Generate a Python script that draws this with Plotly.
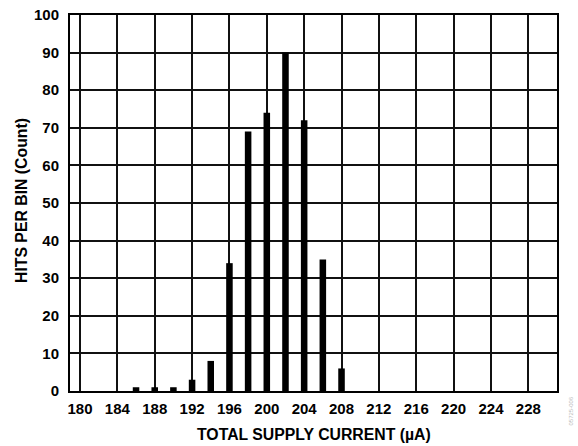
import plotly.graph_objects as go

# Histogram of total supply current
current_bins = [186, 188, 190, 192, 194, 196, 198, 200, 202, 204, 206, 208]
hits = [1, 1, 1, 3, 8, 34, 69, 74, 90, 72, 35, 6]

x_ticks = list(range(180, 229, 4))
y_ticks = list(range(0, 101, 10))

FONT = "Liberation Sans, Arial, Helvetica, sans-serif"
TICK_TEXT = dict(family=FONT, size=15, color="black", weight="bold")
TITLE_TEXT = dict(family=FONT, size=15.8, color="black", weight="bold")

fig = go.Figure()
fig.add_trace(go.Bar(
    x=current_bins,
    y=hits,
    width=0.7,
    marker=dict(color="black", line=dict(width=0)),
))

axis_common = dict(
    showgrid=True,
    gridcolor="#111111",
    gridwidth=1.5,
    showline=True,
    linecolor="black",
    linewidth=2,
    mirror=True,
    ticks="",
    zeroline=False,
    automargin=False,
    tickfont=TICK_TEXT,
)

fig.update_layout(
    width=578,
    height=446,
    margin=dict(l=70, r=21, t=15, b=55),
    paper_bgcolor="white",
    plot_bgcolor="white",
    showlegend=False,
    font=dict(family=FONT, color="black"),
    xaxis=dict(
        range=[178.93, 231.07],
        tickvals=x_ticks,
        ticktext=[str(v) for v in x_ticks],
        ticklabelstandoff=3,
        **axis_common,
    ),
    yaxis=dict(
        range=[0, 100],
        tickvals=y_ticks,
        ticklabelstandoff=6,
        **axis_common,
    ),
)

# Axis titles
fig.add_annotation(
    text="TOTAL SUPPLY CURRENT (µA)", x=0.5, y=0, xref="paper", yref="paper",
    xanchor="center", yanchor="middle", yshift=-43, showarrow=False,
    font=TITLE_TEXT,
)
fig.add_annotation(
    text="HITS PER BIN (Count)", x=0, y=0.5, xref="paper", yref="paper",
    xanchor="center", yanchor="middle", xshift=-49, yshift=2,
    textangle=-90, showarrow=False, font=TITLE_TEXT,
)

fig.add_annotation(
    text="05725-006", x=1.0, y=0.0, xref="paper", yref="paper",
    xanchor="left", yanchor="top", xshift=8, yshift=-4,
    textangle=-90, showarrow=False,
    font=dict(family=FONT, size=6, color="#bbbbbb"),
)

fig.write_html("out.html")
